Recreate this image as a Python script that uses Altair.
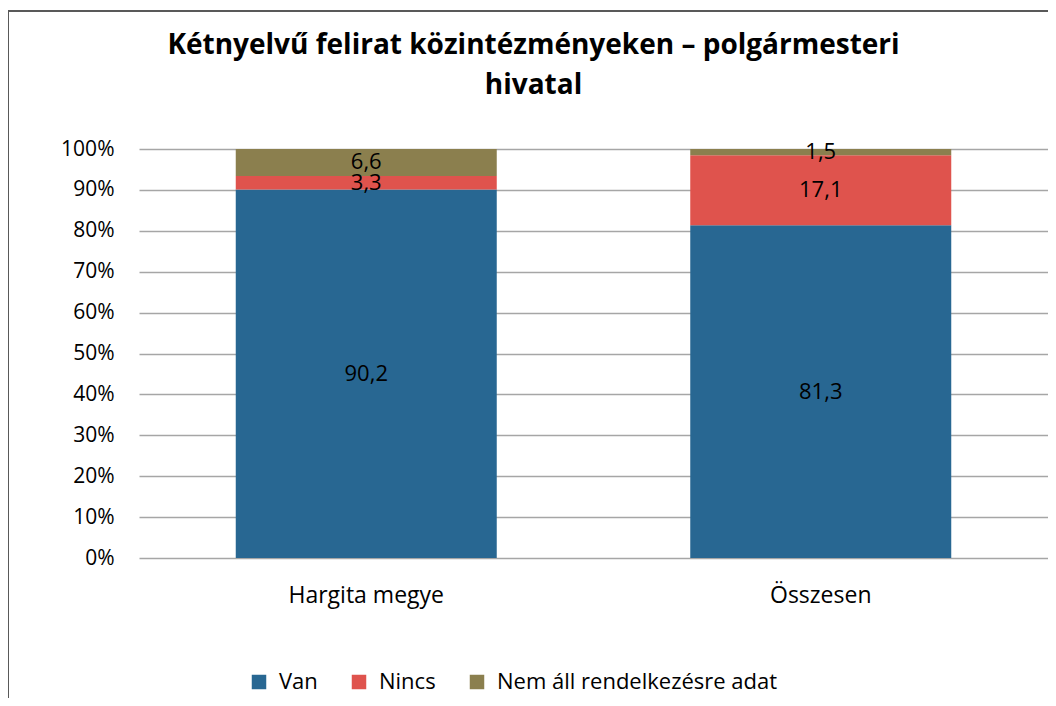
import altair as alt
import pandas as pd

categories = ["Hargita megye", "Összesen"]
series = ["Van", "Nincs", "Nem áll rendelkezésre adat"]
van = [90.2, 81.3]
nincs = [3.3, 17.1]
nem = [6.6, 1.5]
colors = ["#286792", "#DF534D", "#8B7F4E"]
title_lines = ["Kétnyelvű felirat közintézményeken – polgármesteri", "hivatal"]

rows = []
for i, cat in enumerate(categories):
    for j, (s, vals) in enumerate(zip(series, [van, nincs, nem])):
        v = vals[i]
        rows.append({"cat": cat, "series": s, "value": v, "order": j,
                     "label": f"{v}".replace(".", ",")})
df = pd.DataFrame(rows)

FONT = "Open Sans"

base = alt.Chart(df).transform_stack(
    stack="value", groupby=["cat"], as_=["v0", "v1"], offset="normalize",
    sort=[alt.SortField("order", "ascending")]
).transform_calculate(mid="(datum.v0 + datum.v1) / 2")

x_enc = alt.X("cat:N", sort=categories, title=None,
              scale=alt.Scale(paddingInner=0, paddingOuter=0),
              axis=alt.Axis(labelAngle=0, labelFontSize=23, labelFont=FONT,
                            labelColor="#000000", labelPadding=26,
                            domain=False, ticks=False, grid=False))

bars = base.mark_bar(size=261).encode(
    x=x_enc,
    y=alt.Y("v0:Q", scale=alt.Scale(domain=[0, 1], nice=False), title=None,
            axis=alt.Axis(values=[i / 10 for i in range(11)], format=".0%",
                          labelFontSize=21, labelFont=FONT, labelColor="#000000",
                          labelPadding=25, domain=False, ticks=False,
                          gridColor="#A6A6A6", gridWidth=1.5)),
    y2="v1:Q",
    color=alt.Color("series:N", scale=alt.Scale(domain=series, range=colors),
                    title=None,
                    legend=alt.Legend(orient="none", legendX=109, legendY=522,
                                      direction="horizontal", symbolType="square",
                                      symbolSize=210, symbolStrokeWidth=0,
                                      labelFontSize=22, labelFont=FONT,
                                      labelColor="#000000", labelOffset=9,
                                      labelLimit=500, columnPadding=30)),
)

labels = base.mark_text(fontSize=22, font=FONT, color="#000000").encode(
    x=alt.X("cat:N", sort=categories),
    y=alt.Y("mid:Q"),
    text="label:N",
)

frame_data = alt.Data(values=[{"k": 1}])
top_line = alt.Chart(frame_data).mark_rule(color="#595959", strokeWidth=2).encode(
    x=alt.value(-131), x2=alt.value(909), y=alt.value(-138))
left_line = alt.Chart(frame_data).mark_rule(color="#595959", strokeWidth=2).encode(
    x=alt.value(-131), y=alt.value(-138), y2=alt.value(549))

chart = alt.layer(bars, labels, top_line, left_line).properties(
    width=909, height=409,
    title=alt.TitleParams(text=title_lines, fontSize=28, font=FONT, fontWeight="bold",
                          color="#000000", anchor="middle", dx=-60, dy=90, offset=0,
                          lineHeight=40),
    autosize=alt.AutoSizeParams(type="none"),
    padding={"left": 131, "top": 141, "right": 0, "bottom": 140},
).configure_view(stroke=None)

chart.save("out.html", embed_options={"renderer": "svg", "actions": False})
